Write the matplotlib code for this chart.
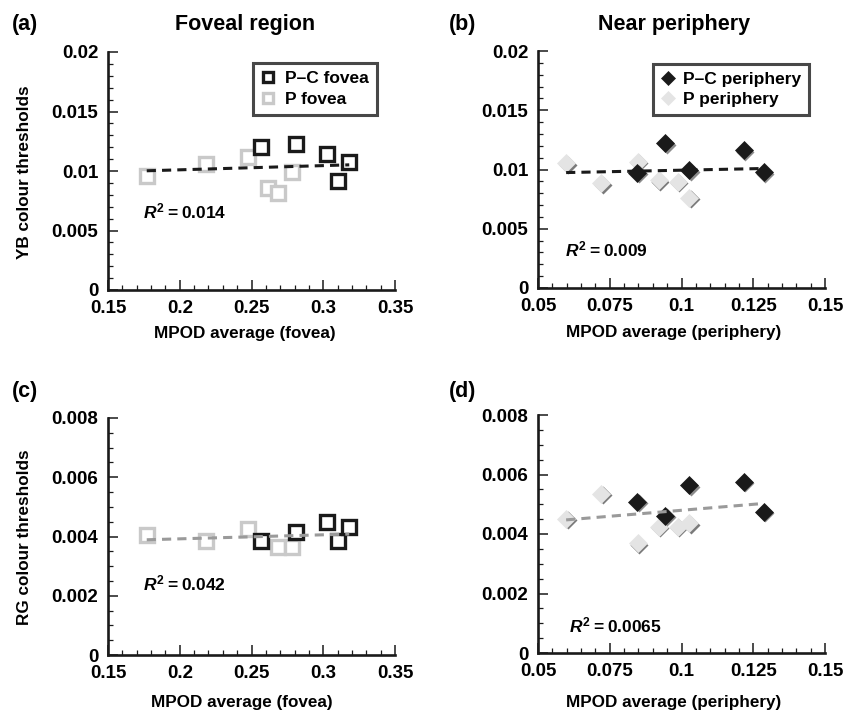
import matplotlib
matplotlib.use('Agg')
import matplotlib.pyplot as plt
import matplotlib.transforms as mtransforms
from matplotlib.ticker import MultipleLocator, FuncFormatter
import numpy as np

plt.rcParams['font.family'] = 'Liberation Sans'
plt.rcParams['font.weight'] = 'bold'
plt.rcParams['mathtext.fontset'] = 'custom'
plt.rcParams['mathtext.rm'] = 'Liberation Sans:bold'
plt.rcParams['mathtext.it'] = 'Liberation Sans:italic:bold'
plt.rcParams['mathtext.bf'] = 'Liberation Sans:bold'

# MPOD averages, P-C group and P group
fovea_pc = [0.2565, 0.2812, 0.3023, 0.3105, 0.3181]
fovea_p = [0.1770, 0.2186, 0.2477, 0.2612, 0.2686, 0.2779]
periph_pc = [0.0845, 0.0943, 0.1027, 0.1217, 0.1287]
periph_p = [0.0598, 0.0720, 0.0848, 0.0921, 0.0987, 0.1026]

# YB colour thresholds
yb_fovea_pc = [0.01203, 0.01231, 0.01141, 0.00915, 0.01077]
yb_fovea_p = [0.00960, 0.01055, 0.01119, 0.00859, 0.00811, 0.00993]
yb_periph_pc = [0.00973, 0.01220, 0.00996, 0.01164, 0.00979]
yb_periph_p = [0.01052, 0.00884, 0.01066, 0.00912, 0.00898, 0.00763]

# RG colour thresholds (one P subject missing at the fovea)
rg_fovea_pc = [0.00385, 0.00415, 0.00448, 0.00385, 0.00432]
rg_fovea_p = [0.00405, 0.00386, 0.00427, np.nan, 0.00364, 0.00364]
rg_periph_pc = [0.00509, 0.00462, 0.00565, 0.00576, 0.00475]
rg_periph_p = [0.00452, 0.00536, 0.00370, 0.00424, 0.00424, 0.00437]

r2_labels = ['0.014', '0.009', '0.042', '0.0065']

W, H = 844, 710
fig = plt.figure(figsize=(W / 100, H / 100), dpi=100)


def box(x0, x1, ytop, ybot):
    return [x0 / W, 1 - ybot / H, (x1 - x0) / W, (ybot - ytop) / H]


def style_axes(ax, xlim, ylim, xmaj, xmin, ymaj, ymin):
    ax.set_xlim(*xlim)
    ax.set_ylim(*ylim)
    for s in ['top', 'right']:
        ax.spines[s].set_visible(False)
    for s in ['left', 'bottom']:
        ax.spines[s].set_linewidth(1.9)
        ax.spines[s].set_color('#1a1a1a')
    ax.xaxis.set_major_locator(MultipleLocator(xmaj))
    ax.xaxis.set_minor_locator(MultipleLocator(xmin))
    ax.yaxis.set_major_locator(MultipleLocator(ymaj))
    ax.yaxis.set_minor_locator(MultipleLocator(ymin))
    fmt = FuncFormatter(lambda v, p: '{:g}'.format(round(v, 6)))
    ax.xaxis.set_major_formatter(fmt)
    ax.yaxis.set_major_formatter(fmt)
    ax.tick_params(which='major', direction='in', length=7, width=1.1,
                   labelsize=13.5, pad=7, color='#1a1a1a')
    ax.tick_params(which='minor', direction='in', length=3.5, width=0.9,
                   color='#1a1a1a')
    for lab in ax.get_xticklabels() + ax.get_yticklabels():
        lab.set_fontweight('bold')


def trend(ax, xs, ys, color):
    x = np.concatenate(xs)
    y = np.concatenate(ys)
    ok = ~np.isnan(y)
    b, a = np.polyfit(x[ok], y[ok], 1)
    xx = np.array([x[ok].min(), x[ok].max()])
    ax.plot(xx, a + b * xx, color=color, lw=2.2, dashes=(3.0, 2.0), zorder=4)


def squares(ax, x, y, color, label):
    ax.plot(x, y, ls='none', marker='s', ms=9.5, mfc='white', mec=color,
            mew=2.4, label=label, zorder=3)


def diamonds(ax, x, y, face, shade, label):
    shadow = mtransforms.offset_copy(ax.transData, fig=fig, x=1.6, y=-1.6,
                                     units='dots')
    ax.plot(x, y, ls='none', marker='D', ms=9, mfc=shade, mec='none',
            transform=shadow, zorder=3)
    ax.plot(x, y, ls='none', marker='D', ms=9, mfc=face, mec=face,
            mew=0.5, label=label, zorder=3)


def r2(ax, xf, yf, val):
    ax.text(xf, yf, r'$R^{2}$' + '\u2009=\u2009' + val, transform=ax.transAxes,
            fontsize=12.5, fontweight='bold', ha='left', va='center')


dark = '#1a1a1a'
light = '#c9c9c9'

# (a) YB, fovea
ax_a = fig.add_axes(box(108, 395, 52, 290))
style_axes(ax_a, (0.15, 0.35), (0, 0.02), 0.05, 0.01, 0.005, 0.001)
squares(ax_a, fovea_p, yb_fovea_p, light, 'P fovea')
squares(ax_a, fovea_pc, yb_fovea_pc, dark, 'P\u2013C fovea')
trend(ax_a, [fovea_pc, fovea_p], [yb_fovea_pc, yb_fovea_p], dark)
r2(ax_a, 0.122, 0.328, r2_labels[0])
h, l = ax_a.get_legend_handles_labels()
leg = ax_a.legend(h[::-1], l[::-1], loc='upper right', bbox_to_anchor=(0.937, 0.952),
                  fontsize=12.5, frameon=True, fancybox=False, handlelength=0.8,
                  handletextpad=0.6, borderpad=0.45, labelspacing=0.3,
                  borderaxespad=0, markerscale=0.8)
leg.get_frame().set_edgecolor('#1a1a1a')
leg.get_frame().set_linewidth(2.2)

# (b) YB, periphery
ax_b = fig.add_axes(box(538, 825, 51, 288))
style_axes(ax_b, (0.05, 0.15), (0, 0.02), 0.025, 0.005, 0.005, 0.001)
diamonds(ax_b, periph_p, yb_periph_p, '#e4e4e4', '#7a7a7a', 'P periphery')
diamonds(ax_b, periph_pc, yb_periph_pc, dark, '#8c8c8c', 'P\u2013C periphery')
trend(ax_b, [periph_pc, periph_p], [yb_periph_pc, yb_periph_p], dark)
r2(ax_b, 0.093, 0.161, r2_labels[1])
h, l = ax_b.get_legend_handles_labels()
leg = ax_b.legend(h[::-1], l[::-1], loc='upper right', bbox_to_anchor=(0.945, 0.944),
                  fontsize=12.5, frameon=True, fancybox=False, handlelength=0.8,
                  handletextpad=0.5, borderpad=0.45, labelspacing=0.25,
                  borderaxespad=0, markerscale=0.75)
leg.get_frame().set_edgecolor('#1a1a1a')
leg.get_frame().set_linewidth(2.2)

# (c) RG, fovea
ax_c = fig.add_axes(box(108, 395, 418, 655))
style_axes(ax_c, (0.15, 0.35), (0, 0.008), 0.05, 0.01, 0.002, 0.0005)
squares(ax_c, fovea_p, rg_fovea_p, light, 'P fovea')
squares(ax_c, fovea_pc, rg_fovea_pc, dark, 'P\u2013C fovea')
trend(ax_c, [fovea_pc, fovea_p], [rg_fovea_pc, rg_fovea_p], '#9a9a9a')
r2(ax_c, 0.122, 0.30, r2_labels[2])

# (d) RG, periphery
ax_d = fig.add_axes(box(538, 825, 415, 653))
style_axes(ax_d, (0.05, 0.15), (0, 0.008), 0.025, 0.005, 0.002, 0.0005)
diamonds(ax_d, periph_p, rg_periph_p, '#e4e4e4', '#7a7a7a', 'P periphery')
diamonds(ax_d, periph_pc, rg_periph_pc, dark, '#8c8c8c', 'P\u2013C periphery')
trend(ax_d, [periph_pc, periph_p], [rg_periph_pc, rg_periph_p], '#9a9a9a')
r2(ax_d, 0.107, 0.116, r2_labels[3])


def ftext(x, y, s, **kw):
    fig.text(x / W, 1 - y / H, s, fontweight='bold', **kw)


# panel letters and column titles
ftext(12, 30, '(a)', fontsize=15.5, ha='left', va='baseline')
ftext(449, 30, '(b)', fontsize=15.5, ha='left', va='baseline')
ftext(12, 397, '(c)', fontsize=15.5, ha='left', va='baseline')
ftext(449, 397, '(d)', fontsize=15.5, ha='left', va='baseline')
ftext(245, 30, 'Foveal region', fontsize=15.5, ha='center', va='baseline')
ftext(674, 30, 'Near periphery', fontsize=15.5, ha='center', va='baseline')

# axis labels
ftext(245, 338, 'MPOD average (fovea)', fontsize=12.3, ha='center', va='baseline')
ftext(674, 337, 'MPOD average (periphery)', fontsize=12.3, ha='center', va='baseline')
ftext(242, 707, 'MPOD average (fovea)', fontsize=12.3, ha='center', va='baseline')
ftext(674, 707, 'MPOD average (periphery)', fontsize=12.3, ha='center', va='baseline')
ftext(25, 172, 'YB colour thresholds', fontsize=12.3, ha='center', va='center', rotation=90)
ftext(25, 537, 'RG colour thresholds', fontsize=12.3, ha='center', va='center', rotation=90)

fig.savefig('out.png', dpi=100, facecolor='white')
